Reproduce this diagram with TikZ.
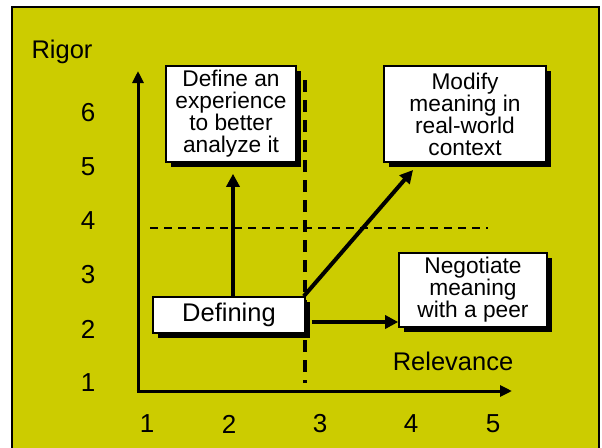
\documentclass[tikz,border=0pt]{standalone}
\usepackage{fontspec}
\setmainfont{Liberation Sans}
\usepackage{tikz}
\usetikzlibrary{calc}
\usetikzlibrary{shadows}
\usetikzlibrary{arrows.meta}
\definecolor{slideyellow}{RGB}{204,204,0}
\tikzset{
   axis/.style={line width=3pt, draw=black, -{Triangle[length=12pt,width=11pt]}},
   flow/.style={line width=4pt, draw=black, -{Triangle[length=13pt,width=13pt]}},
   divide/.style={line width=3.2pt, dash pattern=on 12pt off 8pt},
   level/.style={line width=2.2pt, dash pattern=on 8pt off 6pt},
   stage/.style={draw=black, line width=1.6pt, fill=white, align=center,
      inner sep=0pt,
      drop shadow={shadow xshift=4.5pt, shadow yshift=-4.5pt, opacity=1, fill=black}},
   axislabel/.style={font=\fontsize{25.5}{27}\selectfont},
   tick/.style={font=\fontsize{26}{27}\selectfont},
   boxtext/.style={font=\fontsize{22.7}{22}\selectfont},
    }
\begin{document}
\begin{tikzpicture}[x=1pt,y=-1pt]
            \useasboundingbox (0,0) rectangle (602,447);
            \draw[fill=slideyellow, line width=2.4pt] (12,7) rectangle (599,455);
            % axes
            \coordinate (origin) at (138,391);
            \coordinate (ytop) at (138,71);
            \coordinate (xend) at (512,391);
            \draw[axis] (origin) -- (ytop);
            \draw[axis] ([xshift=-1.5pt]origin) -- (xend);
            \node[axislabel] (rigor) at (62,52) {Rigor};
            \node[axislabel] (relevance) at (453,361) {Relevance};
            \foreach \n/\y in {6/113,5/167,4/221,3/275,2/329,1/383}
               \node[tick] (y\n) at (88,\y) {\n};
            \foreach \n/\x in {1/147,2/229,3/320,4/411,5/493}
               \node[tick] (x\n) at (\x,424) {\n};
            % dashed quadrant lines
            \coordinate (vtop) at (305,80);
            \coordinate (vbot) at (305,383);
            \coordinate (hleft) at (150,228);
            \coordinate (hright) at (488,228);
            \draw[divide] (vtop) -- (vbot);
            \draw[level] (hleft) -- (hright);
            % stages
            \node[stage, minimum width=152pt, minimum height=36pt, font=\fontsize{25.5}{27}\selectfont]
               (defining) at (229,315) {Defining};
            \node[stage, boxtext, minimum width=130pt, minimum height=96pt]
               (define) at (231,114) {Define an\\experience\\to better\\analyze it};
            \node[stage, boxtext, minimum width=162pt, minimum height=96pt]
               (modify) at (465,114) {Modify\\meaning in\\real-world\\context};
            \node[stage, boxtext, minimum width=148pt, minimum height=74pt]
               (negotiate) at (473,290) {Negotiate\\meaning\\with a peer};
            % moves
            \coordinate (mtip) at (413,170);
            \draw[flow, shorten >=11pt] ([xshift=2pt]define.south |- defining.north) -- ([xshift=2pt]define.south);
            \draw[flow] ([xshift=-2pt]defining.north east) -- (mtip);
            \draw[flow] ([shift={(6pt,-7pt)}]defining.east) coordinate (nstart) -- (nstart -| negotiate.west);

        \end{tikzpicture}
\end{document}
